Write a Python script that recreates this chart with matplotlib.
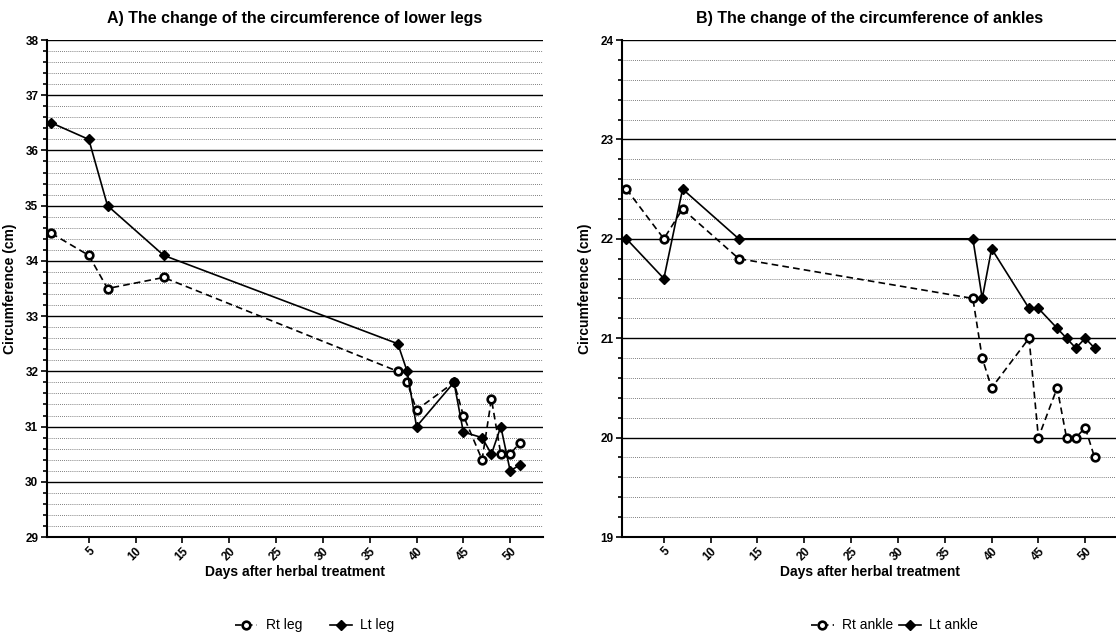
import matplotlib
matplotlib.use('Agg')
import matplotlib.pyplot as plt
from matplotlib.ticker import MultipleLocator

plt.rcParams['font.family'] = ['Liberation Sans', 'DejaVu Sans']

# --- Data ---
days = [1, 5, 7, 13, 38, 39, 40, 44, 45, 47, 48, 49, 50, 51]

rt_leg = [34.5, 34.1, 33.5, 33.7, 32.0, 31.8, 31.3, 31.8, 31.2, 30.4, 31.5, 30.5, 30.5, 30.7]
lt_leg = [36.5, 36.2, 35.0, 34.1, 32.5, 32.0, 31.0, 31.8, 30.9, 30.8, 30.5, 31.0, 30.2, 30.3]

rt_ankle = [22.5, 22.0, 22.3, 21.8, 21.4, 20.8, 20.5, 21.0, 20.0, 20.5, 20.0, 20.0, 20.1, 19.8]
lt_ankle = [22.0, 21.6, 22.5, 22.0, 22.0, 21.4, 21.9, 21.3, 21.3, 21.1, 21.0, 20.9, 21.0, 20.9]

x_ticks = [5, 10, 15, 20, 25, 30, 35, 40, 45, 50]

titles = ['A) The change of the circumference of lower legs',
          'B) The change of the circumference of ankles']
legend_labels = [('Rt leg', 'Lt leg'), ('Rt ankle', 'Lt ankle')]
y_limits = [(29, 38), (19, 24)]

fig = plt.figure(figsize=(11.16, 6.38), dpi=100)
ax_a = fig.add_axes([0.0418, 0.1583, 0.4447, 0.779])
ax_b = fig.add_axes([0.5571, 0.1583, 0.4447, 0.779])

panels = [
    (ax_a, rt_leg, lt_leg, 2.0, 0.54),
    (ax_b, rt_ankle, lt_ankle, 0.4, 0.55),
]

for i, (ax, rt, lt, colspace, leg_x) in enumerate(panels):
    ax.set_xlim(0.5, 53.5)
    ax.set_ylim(*y_limits[i])

    ax.yaxis.set_major_locator(MultipleLocator(1))
    ax.yaxis.set_minor_locator(MultipleLocator(0.2))
    ax.set_xticks(x_ticks)

    ax.grid(which='major', axis='y', color='black', linewidth=1.0, linestyle='-')
    ax.grid(which='minor', axis='y', color='#555555', linewidth=0.6, linestyle=(0, (1, 1.5)))
    ax.grid(which='major', axis='x', visible=False)
    ax.set_axisbelow(True)

    for side in ('top', 'right'):
        ax.spines[side].set_visible(False)
    for side in ('left', 'bottom'):
        ax.spines[side].set_linewidth(1.5)

    ax.tick_params(axis='both', which='major', direction='out', length=4, width=1.2,
                   labelsize=8.5, pad=2)
    ax.tick_params(axis='y', which='minor', direction='out', length=3, width=1.2)
    ax.tick_params(axis='x', which='minor', bottom=False)
    for lab in ax.get_xticklabels():
        lab.set_rotation(45)
        lab.set_ha('right')
        lab.set_rotation_mode('anchor')
        lab.set_fontweight('bold')
    for lab in ax.get_yticklabels():
        lab.set_fontweight('bold')

    ax.plot(days, rt, color='black', linestyle='--', dashes=(4, 2.5), linewidth=1.2,
            marker='o', markersize=5.5, markerfacecolor='white', markeredgewidth=1.9,
            markeredgecolor='black', label=legend_labels[i][0], clip_on=False, zorder=3)
    ax.plot(days, lt, color='black', linestyle='-', linewidth=1.2,
            marker='D', markersize=5.5, markerfacecolor='black', markeredgecolor='black',
            label=legend_labels[i][1], clip_on=False, zorder=4)

    ax.set_title(titles[i], fontsize=11.5, fontweight='bold', pad=12)
    ax.set_xlabel('Days after herbal treatment', fontsize=10, fontweight='bold', labelpad=1)
    ax.set_ylabel('Circumference (cm)', fontsize=10, fontweight='bold', labelpad=6)

    ax.legend(loc='center', bbox_to_anchor=(leg_x, -0.178), ncol=2, frameon=False,
              fontsize=10, handlelength=1.6, handletextpad=0.6, columnspacing=colspace)

fig.savefig('out.png', dpi=100)
